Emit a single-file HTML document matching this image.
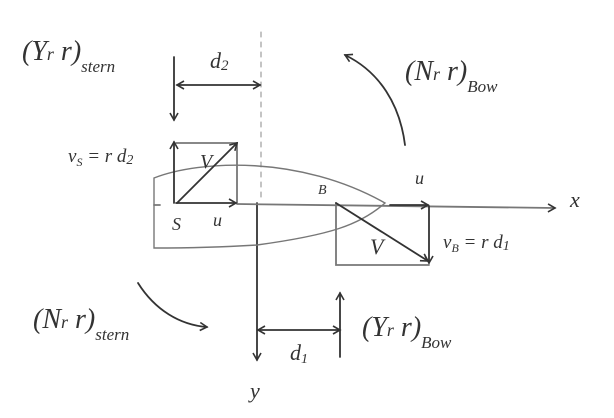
<!DOCTYPE html>
<html><head><meta charset="utf-8"><style>
html,body{margin:0;padding:0;background:#fff;}
svg{display:block;}
text{font-family:"Liberation Serif",serif;font-style:italic;fill:#333;}
</style></head><body>
<svg width="614" height="418" viewBox="0 0 614 418" xmlns="http://www.w3.org/2000/svg">
<defs>
<marker id="a" markerWidth="10" markerHeight="10" refX="8" refY="5" orient="auto" markerUnits="userSpaceOnUse">
<path d="M1,1 L8,5 L1,9" fill="none" stroke="#333" stroke-width="1.6"/></marker>
<marker id="s" markerWidth="10" markerHeight="10" refX="2" refY="5" orient="auto" markerUnits="userSpaceOnUse">
<path d="M9,1 L2,5 L9,9" fill="none" stroke="#333" stroke-width="1.6"/></marker>
</defs>
<g fill="none" stroke="#333" stroke-width="1.8" stroke-linecap="round">
<line x1="261" y1="32" x2="261" y2="202" stroke="#888" stroke-width="1" stroke-dasharray="5,5"/>
<line x1="257" y1="203" x2="257" y2="360" marker-end="url(#a)"/>
<line x1="237" y1="204" x2="555" y2="208" stroke="#777" marker-end="url(#a)"/>
<path d="M154,178 C200,160 300,155 385,203 C360,225 330,235 257,245 C210,248 170,248 154,248 Z" stroke="#777" stroke-width="1.4"/>
<line x1="154" y1="205" x2="160" y2="205" stroke="#777"/>
<path d="M176,143 L237,143 L237,203" stroke="#777"/>
<line x1="174" y1="203" x2="174" y2="142" marker-end="url(#a)"/>
<line x1="177" y1="203" x2="237" y2="143" marker-end="url(#a)"/>
<line x1="176" y1="203" x2="236" y2="203" marker-end="url(#a)"/>
<line x1="174" y1="57" x2="174" y2="120" marker-end="url(#a)"/>
<line x1="177" y1="85" x2="260" y2="85" marker-start="url(#s)" marker-end="url(#a)"/>
<path d="M336,203 L336,265 L429,265" stroke="#777"/>
<line x1="336" y1="203" x2="428" y2="261" marker-end="url(#a)"/>
<line x1="429" y1="206" x2="429" y2="263" marker-end="url(#a)"/>
<line x1="390" y1="205" x2="428" y2="205" marker-end="url(#a)"/>
<path d="M405,145 C400,105 380,72 345,55" marker-end="url(#a)"/>
<path d="M138,283 C155,310 180,325 207,327" marker-end="url(#a)"/>
<line x1="258" y1="330" x2="340" y2="330" marker-start="url(#s)" marker-end="url(#a)"/>
<line x1="340" y1="357" x2="340" y2="293" marker-end="url(#a)"/>
</g>
<text x="22" y="60" font-size="28">(Y<tspan font-size="18">r</tspan> r)<tspan font-size="17" dy="12">stern</tspan></text>
<text x="210" y="68" font-size="22">d<tspan font-size="15" dy="2">2</tspan></text>
<text x="405" y="80" font-size="28">(N<tspan font-size="18">r</tspan> r)<tspan font-size="17" dy="12">Bow</tspan></text>
<text x="68" y="162" font-size="19">v<tspan font-size="12" dy="4">S</tspan><tspan dy="-4"> = r d</tspan><tspan font-size="14" dy="2">2</tspan></text>
<text x="200" y="168" font-size="20">V</text>
<text x="172" y="230" font-size="18">S</text>
<text x="213" y="226" font-size="18">u</text>
<text x="318" y="194" font-size="14">B</text>
<text x="415" y="184" font-size="18">u</text>
<text x="570" y="207" font-size="22">x</text>
<text x="370" y="254" font-size="22">V</text>
<text x="443" y="248" font-size="19">v<tspan font-size="12" dy="4">B</tspan><tspan dy="-4"> = r d</tspan><tspan font-size="14" dy="2">1</tspan></text>
<text x="33" y="328" font-size="28">(N<tspan font-size="18">r</tspan> r)<tspan font-size="17" dy="12">stern</tspan></text>
<text x="290" y="360" font-size="22">d<tspan font-size="14" dy="3">1</tspan></text>
<text x="362" y="336" font-size="28">(Y<tspan font-size="18">r</tspan> r)<tspan font-size="17" dy="12">Bow</tspan></text>
<text x="250" y="398" font-size="22">y</text>
</svg>
</body></html>
